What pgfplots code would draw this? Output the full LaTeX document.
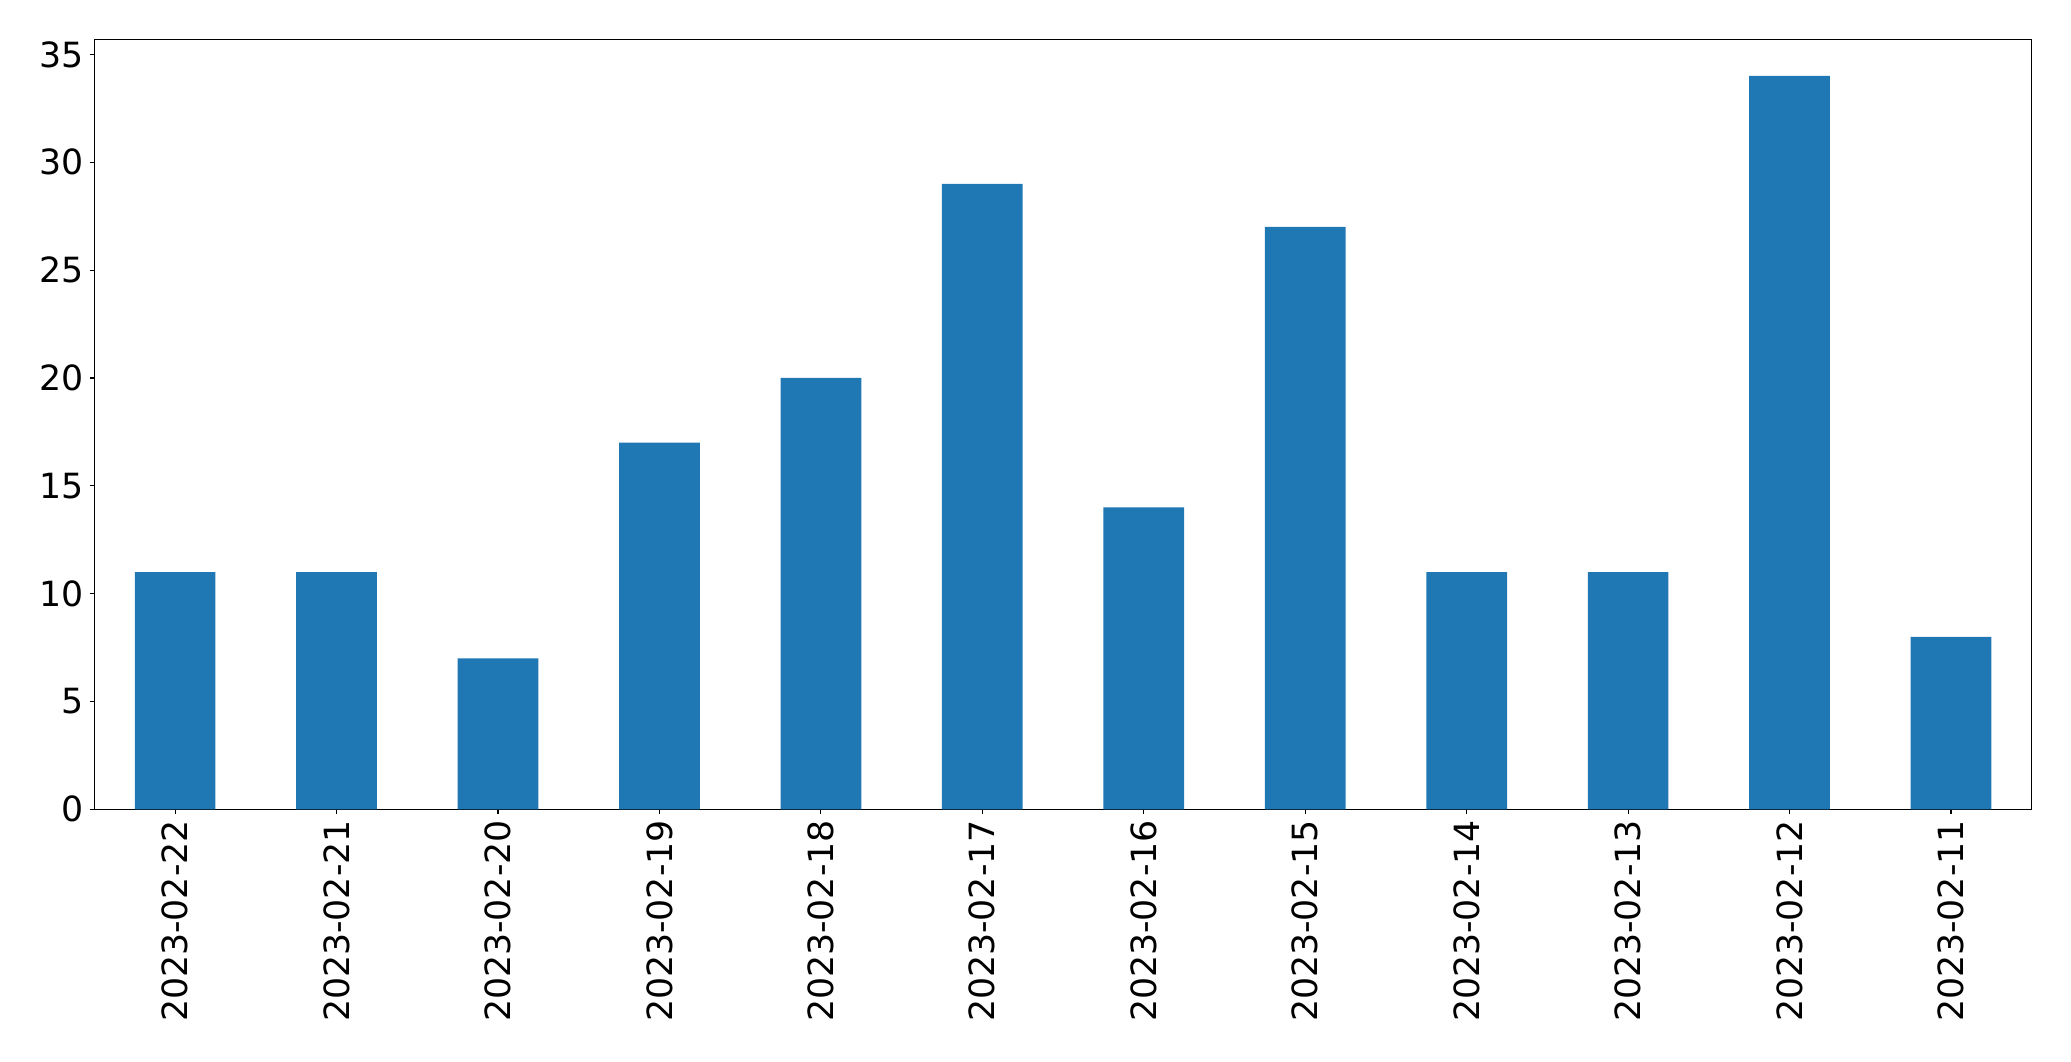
\documentclass[border=0pt]{standalone}
\usepackage{pgfplots}
\pgfplotsset{compat=1.18}
\usepackage{fontspec}
\setmainfont{DejaVu Sans}
\definecolor{barblue}{HTML}{1F77B4}
\begin{document}
\begin{tikzpicture}
\begin{axis}[
  name=ax,
  scale only axis,
  width=968.6pt, height=385pt,
  xmin=-0.5, xmax=11.5,
  ymin=0, ymax=35.7,
  xtick={0,...,11},
  xticklabels={2023-02-22,2023-02-21,2023-02-20,2023-02-19,2023-02-18,2023-02-17,2023-02-16,2023-02-15,2023-02-14,2023-02-13,2023-02-12,2023-02-11},
  ytick={0,5,...,35},
  tick pos=left,
  tick align=outside,
  major tick length=2.43pt,
  every tick/.style={black, line width=0.56pt},
  axis line style={line width=0.56pt},
  /pgf/number format/assume math mode=true,
  ticklabel style={font=\fontsize{17.36pt}{20pt}\selectfont},
  xticklabel style={rotate=90, anchor=east, inner sep=0pt, yshift=0pt, xshift=-2.8pt},
  yticklabel style={anchor=east, inner sep=0pt, xshift=-2.6pt},
]
\addplot[ybar, bar width=0.5, fill=barblue, draw=none, bar shift=0pt] coordinates {
(0,11) (1,11) (2,7) (3,17) (4,20) (5,29) (6,14) (7,27) (8,11) (9,11) (10,34) (11,8)
};
\end{axis}
\path ([xshift=-47.2pt,yshift=-125.85pt]ax.south west) rectangle ([xshift=19.65pt,yshift=19.65pt]ax.north east);
\end{tikzpicture}
\end{document}
